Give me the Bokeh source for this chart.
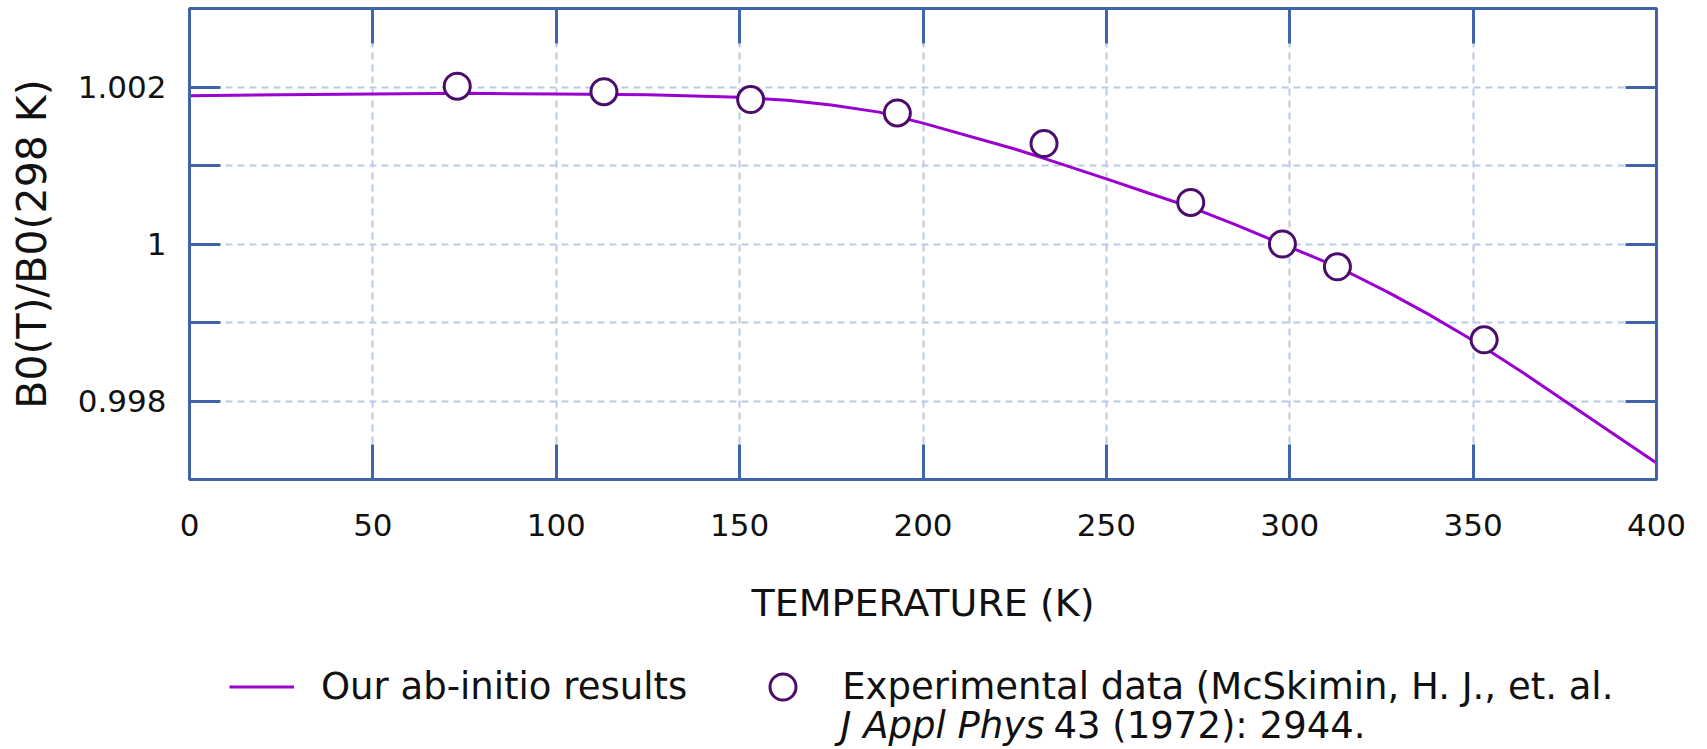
from bokeh.plotting import figure
from bokeh.layouts import column
from bokeh.models import (LinearAxis, FixedTicker, CustomJSTickFormatter, Legend,
                          LegendItem, Label, Range1d)
from bokeh.embed import file_html
from bokeh.resources import INLINE

# ---- data ----
temps_model = [0, 25, 50, 75, 100, 125, 150, 163, 175, 188, 200, 225, 233, 250,
               262, 273, 285, 300, 313, 327, 338, 350, 363, 375, 388, 400]
ratio_model = [1.00189, 1.00190, 1.00191, 1.00192, 1.00191, 1.00190, 1.00187,
               1.00183, 1.00177, 1.00168, 1.00154, 1.00121, 1.00109, 1.00083,
               1.00064, 1.00047, 1.00025, 0.99996, 0.99971, 0.99938, 0.99910,
               0.99877, 0.99838, 0.99800, 0.99759, 0.99721]
temps_exp = [73, 113, 153, 193, 233, 273, 298, 313, 353]
ratio_exp = [1.00201, 1.00194, 1.00184, 1.00167, 1.00128, 1.00053, 1.00000,
             0.99971, 0.99878]
x_ticks = [0, 50, 100, 150, 200, 250, 300, 350, 400]
y_major = [0.998, 1.0, 1.002]
y_minor = [0.997, 0.999, 1.001, 1.003]

label_model = "Our ab-initio results"
label_exp = "Experimental data (McSkimin, H. J., et. al."
ref_italic = "J Appl Phys"
ref_rest = "43 (1972): 2944."

# ---- style ----
FONT = "DejaVu Sans"
BLUE = "#3f64ab"
GRID = "#b7cbe3"
LINE = "#9a00cf"
MARK = "#4c0c6c"
TXT = "#111111"
LEFT, FW, RIGHT = 189, 1467, 42

p = figure(frame_width=FW, frame_height=471, output_backend="svg",
           toolbar_location=None, x_range=Range1d(0, 400),
           y_range=Range1d(0.997, 1.003), x_axis_location=None,
           y_axis_location=None)
p.min_border = 0
p.min_border_left = LEFT
p.min_border_right = RIGHT
p.min_border_bottom = 150
p.min_border_top = 8
p.outline_line_color = BLUE
p.outline_line_width = 3
p.background_fill_color = "white"
p.border_fill_color = "white"

xt = FixedTicker(ticks=x_ticks)
yt = FixedTicker(ticks=y_major, minor_ticks=y_minor)
yfmt = CustomJSTickFormatter(code="return tick.toFixed(3).replace(/\\.?0+$/, '');")
blank = CustomJSTickFormatter(code="return '';")


def style_axis(ax, tin):
    ax.axis_line_color = BLUE
    ax.axis_line_width = 3
    ax.major_tick_line_color = BLUE
    ax.major_tick_line_width = 3
    ax.minor_tick_line_color = BLUE
    ax.minor_tick_line_width = 3
    ax.major_tick_in = tin
    ax.major_tick_out = 0
    ax.minor_tick_in = tin
    ax.minor_tick_out = 0
    ax.major_label_text_font = FONT
    ax.major_label_text_font_size = "31px"
    ax.major_label_text_color = TXT
    ax.axis_label_text_font = FONT
    ax.axis_label_text_font_style = "normal"
    ax.axis_label_text_color = TXT


xb = LinearAxis(ticker=xt, axis_label="TEMPERATURE (K)")
style_axis(xb, 35)
xb.major_label_standoff = 34
xb.axis_label_text_font_size = "38px"
xb.axis_label_standoff = 42
p.add_layout(xb, "below")

xa = LinearAxis(ticker=xt, formatter=blank)
style_axis(xa, 35)
xa.major_label_text_font_size = "0px"
xa.major_label_standoff = 0
p.add_layout(xa, "above")

yl = LinearAxis(ticker=yt, formatter=yfmt, axis_label="B0(T)/B0(298 K)")
style_axis(yl, 31)
yl.major_label_standoff = 23
yl.axis_label_text_font_size = "41px"
yl.axis_label_standoff = 19
p.add_layout(yl, "left")

yr = LinearAxis(ticker=yt, formatter=blank)
style_axis(yr, 31)
yr.major_label_text_font_size = "0px"
yr.major_label_standoff = 0
p.add_layout(yr, "right")

p.xgrid.ticker = xt
p.ygrid.ticker = yt
for g in (p.xgrid[0], p.ygrid[0]):
    g.grid_line_color = GRID
    g.grid_line_width = 2
    g.grid_line_dash = "7 5"
p.ygrid[0].minor_grid_line_color = GRID
p.ygrid[0].minor_grid_line_width = 2
p.ygrid[0].minor_grid_line_dash = "7 5"

p.line(temps_model, ratio_model, line_color=LINE, line_width=3)
p.scatter(temps_exp, ratio_exp, marker="circle", size=26,
          fill_color="white", line_color=MARK, line_width=3)

# ---- legend strip (separate figure so nothing is clipped) ----
H2 = 119
p2 = figure(frame_width=FW, frame_height=H2, output_backend="svg",
            toolbar_location=None,
            x_range=Range1d(LEFT, LEFT + FW), y_range=Range1d(0, H2),
            x_axis_location=None, y_axis_location=None)
p2.min_border = 0
p2.min_border_left = LEFT
p2.min_border_right = RIGHT
p2.outline_line_color = None
p2.xgrid.visible = False
p2.ygrid.visible = False
p2.background_fill_color = "white"
p2.border_fill_color = "white"

nan = float("nan")
leg_line = p2.line([nan], [nan], line_color=LINE, line_width=3)
leg_circ = p2.scatter([nan], [nan], marker="circle", size=26, fill_color="white",
                      line_color=MARK, line_width=3)

legend = Legend(items=[LegendItem(label=label_model, renderers=[leg_line]),
                       LegendItem(label=label_exp, renderers=[leg_circ])],
                orientation="horizontal", location=(40, 29),
                glyph_width=65, glyph_height=65, label_standoff=27, spacing=63,
                label_height=65, padding=0, margin=0, border_line_color=None,
                background_fill_alpha=0, label_text_font=FONT,
                label_text_font_size="37px", label_text_color=TXT)
p2.add_layout(legend, "center")

lab1 = Label(x=840, y=23, text=ref_italic,
             text_font=FONT, text_font_size="37px", text_font_style="italic",
             text_baseline="middle", text_color=TXT)
lab2 = Label(x=1053, y=23, text=ref_rest,
             text_font=FONT, text_font_size="37px", text_baseline="middle",
             text_color=TXT)
p2.add_layout(lab1)
p2.add_layout(lab2)

layout = column(p, p2, spacing=0)
open("out.html", "w").write(file_html(layout, INLINE))
